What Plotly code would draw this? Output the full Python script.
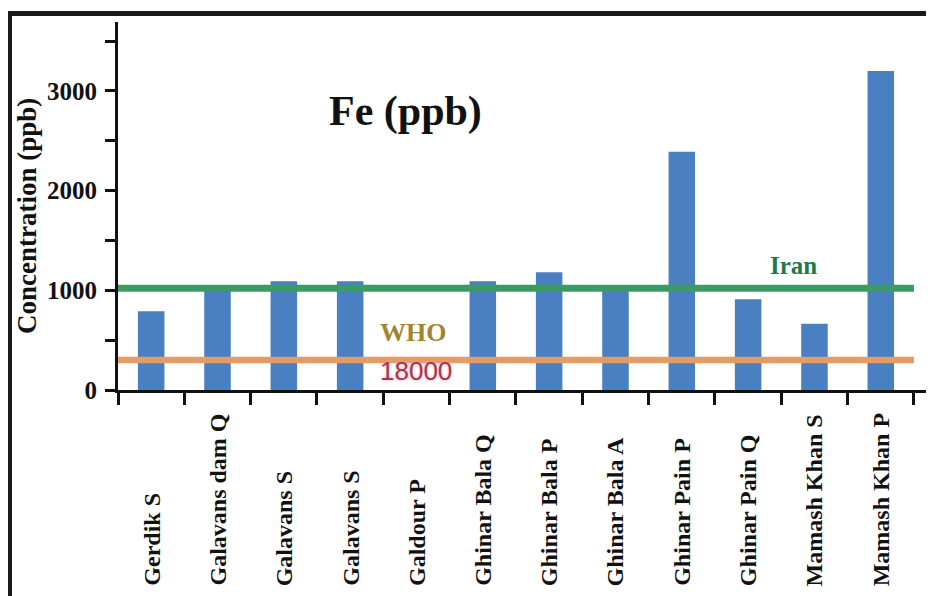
import plotly.graph_objects as go

# ---- data ----
sites = ["Gerdik S", "Galavans dam Q", "Galavans S", "Galavans S", "Galdour P",
         "Ghinar Bala Q", "Ghinar Bala P", "Ghinar Bala A", "Ghinar Pain P",
         "Ghinar Pain Q", "Mamash Khan S", "Mamash Khan P"]
fe_ppb = [790, 1010, 1090, 1090, None, 1090, 1180, 1040, 2390, 910, 665, 3200]
iran_limit = 1020
who_limit = 300
y_ticks = [0, 500, 1000, 1500, 2000, 2500, 3000, 3500]
y_ticktext = ["0", "", "1000", "", "2000", "", "3000", ""]

# page body has an 8px margin; design in screen coords and shift
OFF = 8
W, H = 934 - OFF, 596 - OFF
L, R, T = 118 - OFF, 0, 22 - OFF
BOTTOM = 390 - OFF
B = H - BOTTOM
pw, ph = W - L - R, H - T - B
xpos = list(range(len(sites)))

def px(xs):
    return (xs - OFF - L) / pw

def py(ys):
    return (BOTTOM - (ys - OFF)) / ph

SERIF = "Liberation Serif, Times New Roman, serif"

fig = go.Figure()
fig.add_trace(go.Bar(x=xpos, y=fe_ppb, width=0.4,
                     marker=dict(color="#4a7fc1", line=dict(width=0)),
                     showlegend=False))
x_ends = [-0.5, len(sites) - 0.5]
fig.add_trace(go.Scatter(x=x_ends, y=[iran_limit, iran_limit], mode="lines",
                         line=dict(color="#3e9a64", width=7), showlegend=False))
fig.add_trace(go.Scatter(x=x_ends, y=[who_limit, who_limit], mode="lines",
                         line=dict(color="#e39c66", width=6.5), showlegend=False))

annotations = []
for i, s in enumerate(sites):
    annotations.append(dict(x=i, xref="x", y=py(588), yref="paper", text=s,
                            textangle=-90, showarrow=False, xanchor="center",
                            yanchor="bottom",
                            font=dict(family=SERIF, size=24, color="#111111", weight="bold")))
annotations += [
    dict(x=px(405), y=py(111), xref="paper", yref="paper", text="Fe (ppb)",
         showarrow=False, xanchor="center", yanchor="middle",
         font=dict(family=SERIF, size=42, color="#111111", weight="bold")),
    dict(x=px(27), y=py(216), xref="paper", yref="paper", text="Concentration (ppb)",
         textangle=-90, showarrow=False, xanchor="center", yanchor="middle",
         font=dict(family=SERIF, size=27, color="#111111", weight="bold")),
    dict(x=9.68, y=1250, xref="x", yref="y", text="Iran", showarrow=False,
         xanchor="center", yanchor="middle",
         font=dict(family=SERIF, size=25, color="#1f7a4b", weight="bold")),
    dict(x=3.95, y=577, xref="x", yref="y", text="WHO", showarrow=False,
         xanchor="center", yanchor="middle",
         font=dict(family=SERIF, size=26, color="#a3842c", weight="bold")),
    dict(x=4.0, y=186, xref="x", yref="y", text="18000", showarrow=False,
         xanchor="center", yanchor="middle",
         font=dict(family="Liberation Sans, Arial, sans-serif", size=26,
                   color="#a8344e", shadow="0px 0px 3px #ff9fb0")),
]

shapes = [
    dict(type="rect", xref="paper", yref="paper", x0=px(7), x1=px(12),
         y0=py(610), y1=py(11), fillcolor="#1a1a1a", line=dict(width=0), layer="above"),
    dict(type="rect", xref="paper", yref="paper", x0=px(7), x1=px(945),
         y0=py(16), y1=py(11), fillcolor="#1a1a1a", line=dict(width=0), layer="above"),
]

fig.update_layout(
    width=W, height=H,
    margin=dict(l=L, r=R, t=T, b=B, pad=0, autoexpand=False),
    paper_bgcolor="white", plot_bgcolor="white",
    annotations=annotations, shapes=shapes,
    bargap=0.6,
)
fig.update_xaxes(range=[-0.5, -0.5 + pw / 66.33], tickmode="array",
                 tickvals=[i - 0.5 for i in range(len(sites) + 1)],
                 ticktext=["" for _ in range(len(sites) + 1)],
                 ticks="outside", ticklen=12, tickwidth=2.5, tickcolor="#111111",
                 showline=True, linecolor="#111111", linewidth=3,
                 showgrid=False, zeroline=False, fixedrange=True, automargin=False)
fig.update_yaxes(range=[0, ph / 0.0997], tickmode="array",
                 tickvals=y_ticks, ticktext=y_ticktext,
                 ticks="outside", ticklen=10, tickwidth=2.5, tickcolor="#111111",
                 showline=True, linecolor="#111111", linewidth=3,
                 showgrid=False, zeroline=False, automargin=False,
                 tickfont=dict(family=SERIF, size=25, color="#111111", weight="bold"),
                 ticklabelstandoff=3)

fig.write_html("out.html")
